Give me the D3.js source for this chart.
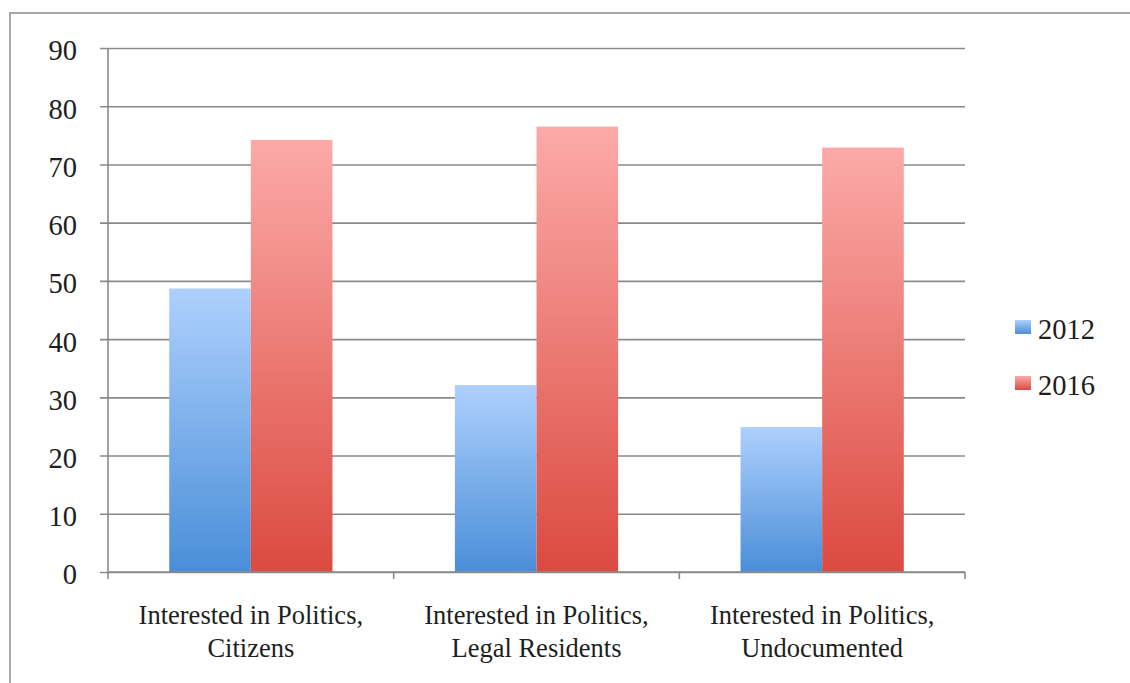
<!DOCTYPE html>
<html>
<head>
<meta charset="utf-8">
<script src="https://cdn.jsdelivr.net/npm/d3@7"></script>
<style>
  body { margin: 0; background: #fff; }
  text { font-family: "Liberation Serif", "DejaVu Serif", serif; fill: #1e1e1e; }
</style>
</head>
<body>
<div id="vis"></div>
<script>
var categories = ["Interested in Politics,|Citizens",
                  "Interested in Politics,|Legal Residents",
                  "Interested in Politics,|Undocumented"];
var series = ["2012", "2016"];
var values2012 = [48.7, 32.1, 24.9];
var values2016 = [74.2, 76.5, 72.9];
var yTicks = [0, 10, 20, 30, 40, 50, 60, 70, 80, 90];

var width = 1130, height = 683;
var margin = {top: 48, left: 108, right: 165, bottom: 111};

var svg = d3.select("#vis")
    .append("svg")
    .attr("width", width)
    .attr("height", height);

var defs = svg.append("defs");
var grads = {
  "2012": ["#aed0fd", "#4a8ed8"],
  "2016": ["#fcaaa8", "#db4a40"]
};
series.forEach(function(s) {
  var g = defs.append("linearGradient")
      .attr("id", "g" + s)
      .attr("x1", 0).attr("y1", 0).attr("x2", 0).attr("y2", 1);
  g.append("stop").attr("offset", "0%").attr("stop-color", grads[s][0]);
  g.append("stop").attr("offset", "100%").attr("stop-color", grads[s][1]);
});

// outer frame
svg.append("rect")
    .attr("x", 10).attr("y", 13)
    .attr("width", width + 20).attr("height", height + 20)
    .attr("fill", "none")
    .attr("stroke", "#a8a8a8")
    .attr("stroke-width", 2);

var x = d3.scaleBand()
    .domain(categories)
    .range([margin.left, width - margin.right]);

var x1 = d3.scaleBand()
    .domain(series)
    .range([0, x.bandwidth()])
    .paddingOuter(0.75);

var y = d3.scaleLinear()
    .domain([0, 90])
    .range([height - margin.bottom, margin.top]);

// gridlines + y ticks
svg.append("g")
    .attr("transform", "translate(" + margin.left + ",0)")
    .call(d3.axisLeft(y).tickValues(yTicks).tickSize(-(x.range()[1] - margin.left)).tickSizeOuter(0).tickPadding(0))
    .call(function(g) {
      g.select(".domain").remove();
      g.selectAll(".tick line")
          .attr("x1", -8)
          .attr("stroke", "#8a8a8a")
          .attr("stroke-width", 1.6);
      g.selectAll(".tick text")
          .attr("x", -31)
          .attr("dy", "0.42em")
          .attr("font-size", 28.5)
          .attr("fill", "#1e1e1e");
    });

// y axis line
svg.append("line")
    .attr("x1", margin.left).attr("x2", margin.left)
    .attr("y1", y(90)).attr("y2", y(0))
    .attr("stroke", "#8a8a8a").attr("stroke-width", 1.6);

// bars
var data = categories.map(function(c, i) {
  return {cat: c, vals: [{s: "2012", v: values2012[i]}, {s: "2016", v: values2016[i]}]};
});

var groups = svg.selectAll(".grp")
    .data(data)
    .enter().append("g")
    .attr("class", "grp")
    .attr("transform", function(d) { return "translate(" + x(d.cat) + ",0)"; });

groups.selectAll("rect")
    .data(function(d) { return d.vals; })
    .enter().append("rect")
    .attr("x", function(d) { return x1(d.s); })
    .attr("width", x1.bandwidth())
    .attr("y", function(d) { return y(d.v); })
    .attr("height", function(d) { return y(0) - y(d.v); })
    .attr("fill", function(d) { return "url(#g" + d.s + ")"; });

// x axis
var xAxis = svg.append("g")
    .attr("transform", "translate(0," + y(0) + ")");
xAxis.append("line")
    .attr("x1", margin.left).attr("x2", x.range()[1])
    .attr("stroke", "#8a8a8a").attr("stroke-width", 1.6);
var bounds = categories.map(function(c) { return x(c); }).concat([x.range()[1]]);
xAxis.selectAll(".xt")
    .data(bounds)
    .enter().append("line")
    .attr("class", "xt")
    .attr("x1", function(d) { return d; }).attr("x2", function(d) { return d; })
    .attr("y1", 0).attr("y2", 7)
    .attr("stroke", "#8a8a8a").attr("stroke-width", 1.6);

var labels = xAxis.selectAll(".xl")
    .data(categories)
    .enter().append("text")
    .attr("class", "xl")
    .attr("text-anchor", "middle")
    .attr("font-size", 26.5)
    .attr("transform", function(d) { return "translate(" + (x(d) + x.bandwidth() / 2) + ",0)"; });
labels.selectAll("tspan")
    .data(function(d) { return d.split("|"); })
    .enter().append("tspan")
    .attr("x", 0)
    .attr("y", function(d, i) { return 52 + i * 33; })
    .text(function(d) { return d; });

// legend
var legend = svg.selectAll(".leg")
    .data(series)
    .enter().append("g")
    .attr("class", "leg")
    .attr("transform", function(d, i) { return "translate(1015," + (320 + i * 56) + ")"; });
legend.append("rect")
    .attr("width", 16).attr("height", 14)
    .attr("fill", function(d) { return "url(#g" + d + ")"; });
legend.append("text")
    .attr("x", 23).attr("y", 19)
    .attr("font-size", 28.5)
    .text(function(d) { return d; });
</script>
</body>
</html>
